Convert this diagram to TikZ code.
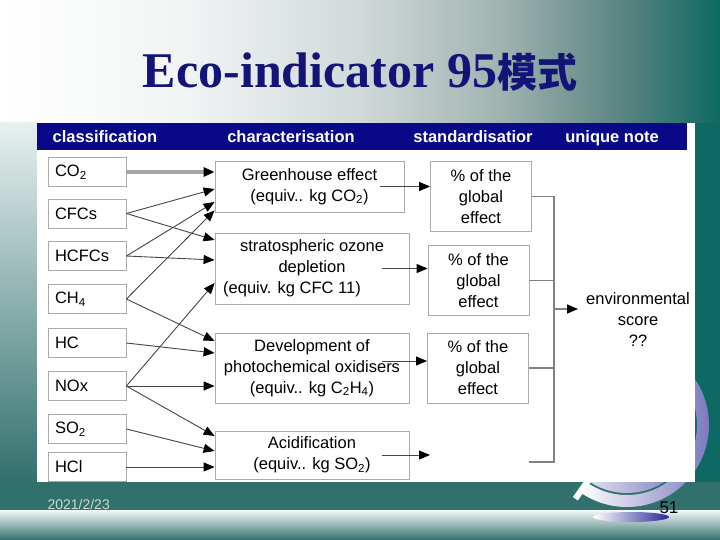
\documentclass[tikz,border=0pt]{standalone}
\usepackage{fontspec}
\setmainfont{Liberation Serif}
\setsansfont{Liberation Sans}
\newfontfamily\cjk{Noto Sans CJK SC}
\usetikzlibrary{arrows.meta, calc}
\definecolor{slideteal}{RGB}{14,104,100}
\definecolor{bandteal}{RGB}{50,112,109}
\definecolor{headnavy}{RGB}{8,8,136}
\definecolor{titlenavy}{RGB}{20,20,120}
\definecolor{boxgray}{RGB}{170,170,170}
\definecolor{linegray}{RGB}{70,70,70}
\definecolor{co2gray}{RGB}{165,165,165}
\definecolor{feedgray}{RGB}{130,130,130}
\definecolor{globeblue}{RGB}{110,110,185}
\definecolor{globedark}{RGB}{40,40,150}
\definecolor{footgray}{RGB}{205,215,213}
\pgfdeclarehorizontalshading{slidetop}{100bp}{rgb(0bp)=(1,1,1); rgb(25bp)=(1,1,1); rgb(37.5bp)=(0.95,0.96,0.96); rgb(50bp)=(0.82,0.85,0.85); rgb(60bp)=(0.62,0.70,0.69); rgb(67.5bp)=(0.38,0.53,0.52); rgb(75bp)=(0.06,0.41,0.39); rgb(100bp)=(0.06,0.41,0.39)}

\begin{document}
\begin{tikzpicture}[x=1bp, y=-1bp,
		every node/.style={font=\sffamily\fontsize{16.5bp}{21bp}\selectfont},
		classbox/.style={draw=boxgray, fill=white, line width=0.8bp, text width=64bp, inner xsep=7bp, inner ysep=0bp, minimum height=29bp, align=left},
		charbox/.style={draw=boxgray, fill=white, line width=0.8bp, minimum width=194bp, inner sep=0bp, align=center},
		stdbox/.style={draw=boxgray, fill=white, line width=0.8bp, minimum width=101bp, minimum height=70bp, inner sep=0bp, align=center},
		headtext/.style={text=white, font=\sffamily\bfseries\fontsize{16.5bp}{20bp}\selectfont, anchor=base},
		link/.style={draw=linegray, line width=0.9bp, -{Triangle[length=11bp, width=9bp, color=black]}},
		feed/.style={draw=feedgray, line width=1.4bp}]
	\useasboundingbox (0,0) rectangle (720,540);
	\fill[slideteal] (0,0) rectangle (720,540);
	\shade[shading=slidetop] (0,0) rectangle (720,123);
	\shade[top color=white!90!slideteal, bottom color=bandteal] (0,123) rectangle (37,482);
	\fill[bandteal] (0,482) rectangle (720,510);
	\shade[top color=white!96!slideteal, bottom color=bandteal] (0,510) rectangle (720,540);

	\coordinate (gc) at (627,425);
	\shade[left color=white, right color=globeblue] (gc) circle[radius=68];
	\shade[left color=white, right color=globeblue] ($(gc)+(-34:82)$) arc[start angle=-34, end angle=125, radius=82] -- ($(gc)+(125:70)$) arc[start angle=125, end angle=-34, radius=70] -- cycle;
	\draw[white, line width=6bp] ($(gc)+(125:66)$) -- ($(gc)+(125:90)$);
	\shade[left color=white, right color=globedark] (631,517) ellipse[x radius=38, y radius=5];

	\fill[white] (37,123) rectangle (695,482);
	\fill[headnavy] (37,123) rectangle (687,150);
	\node[headtext] (hclass) at (105,143) {classification};
	\node[headtext] (hchar) at (291,143) {characterisation};
	\node[headtext] (hstd) at (473,143) {standardisatior};
	\node[headtext] (hnote) at (612,143) {unique note};

	\node[font=\rmfamily\bfseries\fontsize{50bp}{56bp}\selectfont, text=titlenavy, anchor=base] (title) at (360,88) {Eco-indicator 95{\cjk\fontsize{40bp}{44bp}\selectfont 模式}};

	\node[classbox] (co2) at (87,172) {CO\textsubscript{2}};
	\node[classbox] (cfcs) at (87,213.5) {CFCs};
	\node[classbox] (hcfcs) at (87,256) {HCFCs};
	\node[classbox] (ch4) at (87,299) {CH\textsubscript{4}};
	\node[classbox] (hc) at (87,343) {HC};
	\node[classbox] (nox) at (87,386) {NOx};
	\node[classbox] (so2) at (87,429) {SO\textsubscript{2}};
	\node[classbox] (hcl) at (87,467) {HCl};

	\node[charbox, minimum width=189bp, minimum height=51bp] (green) at (309.5,186.5) {Greenhouse effect\\(equiv.. kg CO\textsubscript{2})};
	\node[charbox, minimum height=71bp] (ozone) at (312,268.5) {stratospheric ozone\\depletion\\(equiv. kg CFC 11)\hspace*{40bp}};
	\node[charbox, minimum height=70bp] (photo) at (312,368) {Development of\\photochemical oxidisers\\(equiv.. kg C\textsubscript{2}H\textsubscript{4})};
	\node[charbox, minimum height=48bp] (acid) at (312,455) {Acidification\\(equiv.. kg SO\textsubscript{2})};

	\node[stdbox] (std1) at (481,196.5) {\% of the\\global\\effect};
	\node[stdbox] (std2) at (478.5,280.5) {\% of the\\global\\effect};
	\node[stdbox] (std3) at (478,368) {\% of the\\global\\effect};

	\node[align=center] (env) at (638,320) {environmental\\score\\??};

	\coordinate (acidout) at (430,455);
	\coordinate (stdout) at (529,462);
	\coordinate (bustop) at (554,196.5);
	\coordinate (busbot) at (554,462);
	\coordinate (busmid) at (554,309);
	\coordinate (envtip) at (578,309);

	\draw[link, line width=4bp, draw=co2gray] (co2.east) -- (co2.east -| green.west);
	\draw[link] (cfcs.east) -- ([yshift=-2.5bp]green.west);
	\draw[link] (hcfcs.east) -- ([yshift=-15.5bp]green.west);
	\draw[link] (ch4.east) -- ([yshift=2bp]green.south west);
	\draw[link] (cfcs.east) -- ([yshift=28.5bp]ozone.west);
	\draw[link] (hcfcs.east) -- ([yshift=8.5bp]ozone.west);
	\draw[link] (nox.east) -- ([yshift=-14.5bp]ozone.west);
	\draw[link] (ch4.east) -- ([yshift=27bp]photo.west);
	\draw[link] (hc.east) -- ([yshift=15bp]photo.west);
	\draw[link] (nox.east) -- (nox.east -| photo.west);
	\draw[link] (nox.east) -- ([yshift=19bp]acid.west);
	\draw[link] (so2.east) -- ([yshift=4bp]acid.west);
	\draw[link] (hcl.east) -- (hcl.east -| acid.west);

	\draw[link] ([xshift=-24bp]green.east) -- (green.east -| std1.west);
	\draw[link] ([xshift=-27bp]ozone.east) -- (ozone.east -| std2.west);
	\draw[link] ([xshift=-27bp, yshift=7bp]photo.east) -- ([yshift=7bp]std3.west);
	\draw[link] ([xshift=-27bp]acid.east) -- (acidout);

	\draw[feed] (std1.east) -- (bustop) -- (busbot) -- (stdout);
	\draw[feed] (std2.east) -- (std2.east -| bustop);
	\draw[feed] (std3.east) -- (std3.east -| bustop);
	\draw[feed, -{Triangle[length=11bp, width=9bp, color=black]}] (busmid) -- (envtip);

	\node[font=\sffamily\fontsize{14bp}{16bp}\selectfont, text=footgray, anchor=base west] (date) at (44,509) {2021/2/23};
	\node[font=\sffamily\fontsize{17bp}{19bp}\selectfont, anchor=base west] (page) at (656,513) {51};
\end{tikzpicture}
\end{document}
